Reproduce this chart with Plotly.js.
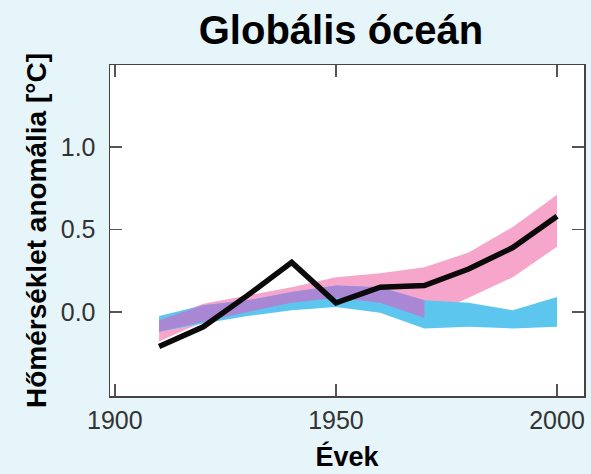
<!DOCTYPE html>
<html>
<head>
<meta charset="utf-8">
<script src="https://cdn.plot.ly/plotly-3.0.1.min.js"></script>
<style>html,body{margin:0;padding:0;background:#e6f5f9;}#chart{width:591px;height:474px;}</style>
</head>
<body>
<div id="chart"></div>
<script>
// Decades
var years = [1910, 1920, 1930, 1940, 1950, 1960, 1970, 1980, 1990, 2000];
// Observed temperature anomaly (black line)
var observed = [-0.21, -0.09, 0.10, 0.30, 0.055, 0.15, 0.16, 0.26, 0.39, 0.58];
// Models with natural + anthropogenic forcing (pink band)
var allHi = [-0.05, 0.05, 0.10, 0.15, 0.21, 0.235, 0.27, 0.36, 0.515, 0.71];
var allLo = [-0.18, -0.06, 0.00, 0.055, 0.085, 0.055, -0.035, 0.085, 0.21, 0.395];
// Models with natural forcing only (blue band)
var natHi = [-0.025, 0.04, 0.07, 0.12, 0.16, 0.15, 0.07, 0.055, 0.01, 0.09];
var natLo = [-0.12, -0.07, -0.025, 0.01, 0.03, -0.005, -0.10, -0.09, -0.10, -0.09];
var xTicks = [1900, 1950, 2000];
var yTicks = [0, 0.5, 1.0];

function band(x, hi, lo, color) {
  return {
    x: x.concat(x.slice().reverse()),
    y: hi.concat(lo.slice().reverse()),
    fill: 'toself', fillcolor: color, mode: 'lines',
    line: {width: 0, color: color}, hoverinfo: 'skip', showlegend: false, type: 'scatter'
  };
}
// overlap of the two bands
var ovX = [], ovHi = [], ovLo = [];
for (var i = 0; i < years.length; i++) {
  var h = Math.min(allHi[i], natHi[i]), l = Math.max(allLo[i], natLo[i]);
  if (h > l) { ovX.push(years[i]); ovHi.push(h); ovLo.push(l); }
}

var traces = [
  band(years, allHi, allLo, '#f7a6cb'),
  band(years, natHi, natLo, '#5cc6ef'),
  band(ovX, ovHi, ovLo, '#a987d4'),
  {x: years, y: observed, mode: 'lines', line: {color: '#0a0a0a', width: 5.5}, type: 'scatter', showlegend: false}
];

var FONT = 'Liberation Sans, Arial, sans-serif';
var axisCommon = {
  showline: true, linecolor: '#444', linewidth: 1.5, mirror: 'ticks',
  ticks: 'inside', ticklen: 12, tickwidth: 1.5, tickcolor: '#555',
  showgrid: false, zeroline: false,
  tickfont: {family: FONT, size: 25, color: '#333'}
};

var layout = {
  width: 591, height: 474,
  paper_bgcolor: '#e6f5f9', plot_bgcolor: '#ffffff',
  margin: {l: 110, r: 7, t: 65, b: 78},
  title: {text: '<b>Globális óceán</b>', x: 0.577, xanchor: 'center', y: 0.936, yanchor: 'middle', yref: 'container',
          font: {family: FONT, size: 40, color: '#000'}},
  xaxis: Object.assign({}, axisCommon, {
    range: [1898.9, 2006.1], tickvals: xTicks, ticktext: xTicks.map(String),
    ticklabelstandoff: 1,
    title: {text: '<b>Évek</b>', standoff: 14, font: {family: FONT, size: 27, color: '#000'}}
  }),
  yaxis: Object.assign({}, axisCommon, {
    range: [-0.51, 1.497], tickvals: yTicks, ticktext: yTicks.map(function (v) { return v.toFixed(1); }),
    ticklabelstandoff: 8,
    title: {text: '<b>Hőmérséklet anomália [°C]</b>', standoff: 6, font: {family: FONT, size: 28, color: '#000'}}
  })
};

Plotly.newPlot('chart', traces, layout, {staticPlot: true, displayModeBar: false});
</script>
</body>
</html>
